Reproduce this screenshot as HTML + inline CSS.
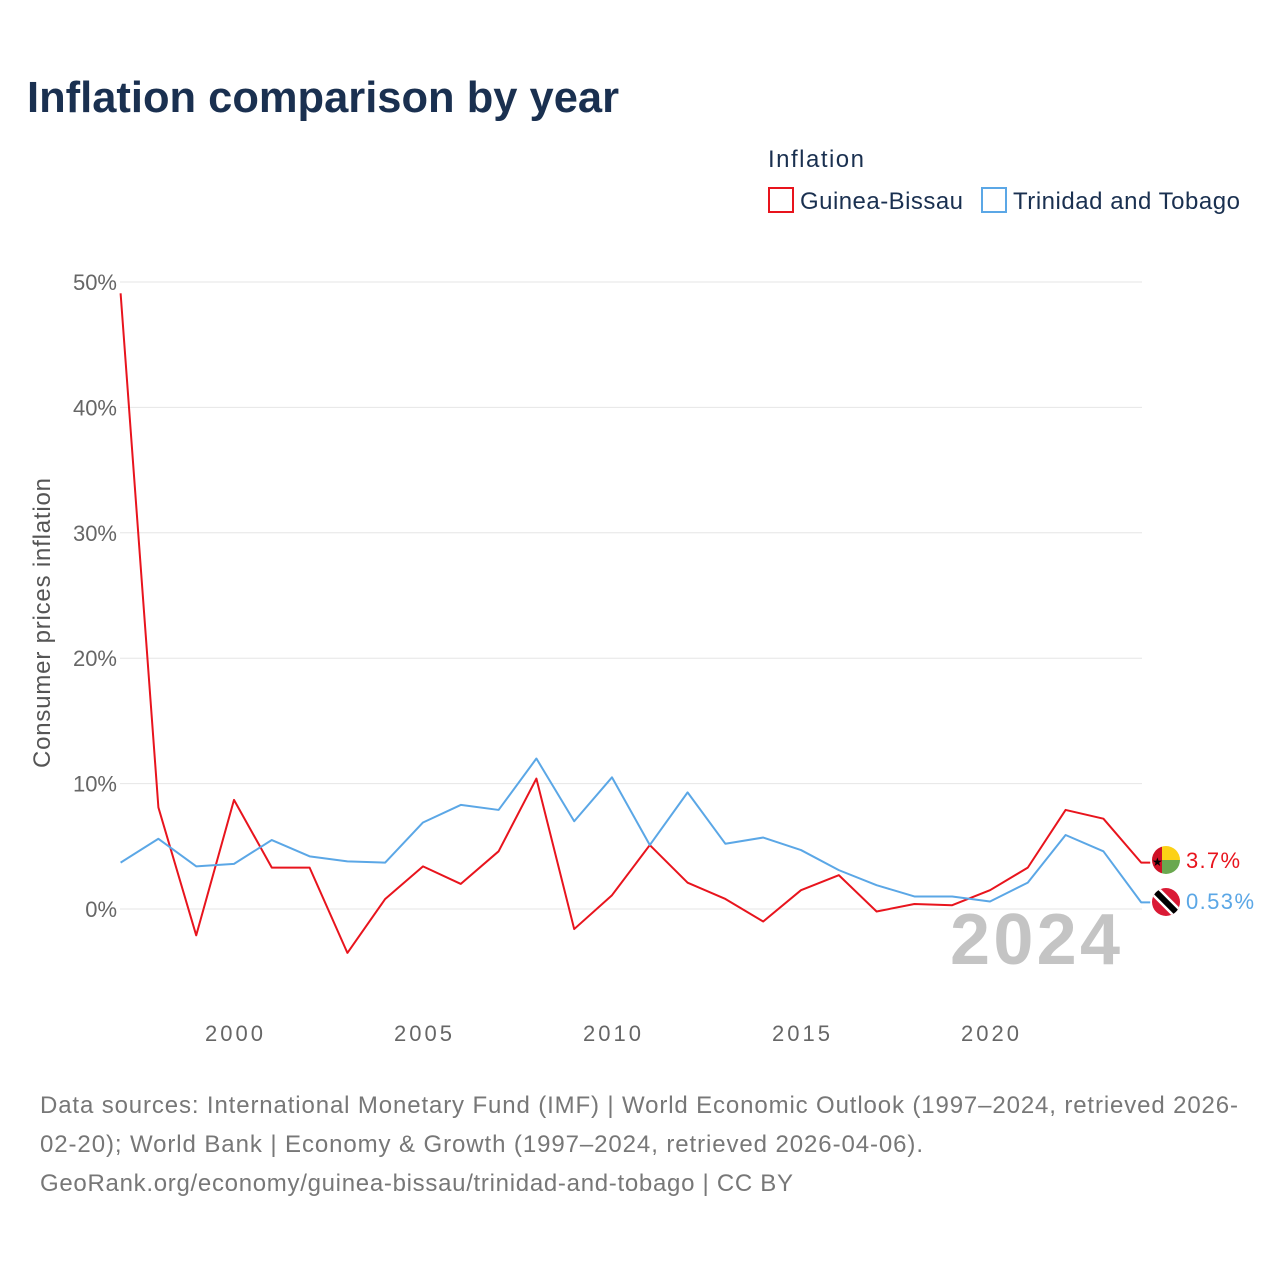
<!DOCTYPE html>
<html><head><meta charset="utf-8"><style>
body{margin:0;background:#fff;font-family:"Liberation Sans",sans-serif;}
#wrap{position:relative;width:1280px;height:1280px;}
</style></head><body>
<div id="wrap">
<svg id="chart" width="1280" height="1280" xmlns="http://www.w3.org/2000/svg">
<text x="27" y="112" font-size="44" font-weight="bold" fill="#1a3050" textLength="592" lengthAdjust="spacingAndGlyphs">Inflation comparison by year</text>
<text x="768" y="167" font-size="24" fill="#1a3050" textLength="96">Inflation</text>
<g><rect x="769" y="188" width="24" height="24" fill="none" stroke="#e8141d" stroke-width="2"/><text x="800" y="209" font-size="24" fill="#1a3050" textLength="163">Guinea-Bissau</text></g>
<g><rect x="982" y="188" width="24" height="24" fill="none" stroke="#5ba7e6" stroke-width="2"/><text x="1013" y="209" font-size="24" fill="#1a3050" textLength="227">Trinidad and Tobago</text></g>
<text transform="translate(50,623) rotate(-90)" text-anchor="middle" font-size="24" fill="#555" textLength="290">Consumer prices inflation</text>
<g id="grid"></g><g id="xt"></g>
<text x="1120" y="964" text-anchor="end" font-size="72" font-weight="bold" fill="#c4c4c4" textLength="170">2024</text>
<g id="series"></g>
<g>
<clipPath id="c1"><circle cx="1166" cy="860" r="14"/></clipPath>
<g clip-path="url(#c1)"><rect x="1152" y="846" width="10" height="28" fill="#ce1126"/><rect x="1162" y="846" width="18" height="14" fill="#fcd116"/><rect x="1162" y="860" width="18" height="14" fill="#6aa84f"/></g>
<text x="1152" y="866" font-size="12" fill="#000">★</text></g>
<g>
<clipPath id="c2"><circle cx="1166" cy="902" r="14"/></clipPath>
<g clip-path="url(#c2)"><rect x="1152" y="888" width="28" height="28" fill="#da1a35"/><line x1="1152" y1="888" x2="1180" y2="916" stroke="#fff" stroke-width="11"/><line x1="1152" y1="888" x2="1180" y2="916" stroke="#000" stroke-width="6"/></g></g>
<text x="1186" y="868" font-size="22" fill="#e8141d" textLength="54">3.7%</text>
<text x="1186" y="909" font-size="22" fill="#5ba7e6" textLength="68">0.53%</text>
<text font-size="24" fill="#777"><tspan x="40" y="1113" textLength="1198">Data sources: International Monetary Fund (IMF) | World Economic Outlook (1997–2024, retrieved 2026-</tspan><tspan x="40" y="1152" textLength="883">02-20); World Bank | Economy &amp; Growth (1997–2024, retrieved 2026-04-06).</tspan><tspan x="40" y="1191" textLength="753">GeoRank.org/economy/guinea-bissau/trinidad-and-tobago | CC BY</tspan></text>
</svg>
</div>
<script>
const years=[1997,1998,1999,2000,2001,2002,2003,2004,2005,2006,2007,2008,2009,2010,2011,2012,2013,2014,2015,2016,2017,2018,2019,2020,2021,2022,2023,2024];
const guineaBissau=[49.1,8.1,-2.1,8.7,3.3,3.3,-3.5,0.8,3.4,2.0,4.6,10.4,-1.6,1.1,5.1,2.1,0.8,-1.0,1.5,2.7,-0.2,0.4,0.3,1.5,3.3,7.9,7.2,3.7];
const trinidad=[3.7,5.6,3.4,3.6,5.5,4.2,3.8,3.7,6.9,8.3,7.9,12.0,7.0,10.5,5.1,9.3,5.2,5.7,4.7,3.1,1.9,1.0,1.0,0.6,2.1,5.9,4.6,0.53];
const yTicks=[0,10,20,30,40,50];
const xTicks=[2000,2005,2010,2015,2020];
const NS="http://www.w3.org/2000/svg";
const X=y=>120.6+(y-1997)*37.8;
const Y=v=>909-v*12.54;
function mk(t,a,p){const e=document.createElementNS(NS,t);for(const k in a)e.setAttribute(k,a[k]);p.appendChild(e);return e;}
const grid=document.getElementById('grid');
yTicks.forEach(v=>{
 const l=mk('line',{x1:120,x2:1142,y1:Y(v),y2:Y(v),stroke:'#e6e6e6','stroke-width':1},grid);
 
 
 const t=mk('text',{x:117,y:Y(v)+8,'text-anchor':'end','font-size':22,fill:'#666'},grid);
 t.textContent=v+'%';
 
 
});
const xt=document.getElementById('xt');
xTicks.forEach(v=>{
 const t=mk('text',{x:X(v),y:1041,'text-anchor':'middle','font-size':22,fill:'#666',textLength:58},xt);
 t.textContent=v;
 
 
});
const s=document.getElementById('series');
[[guineaBissau,'#e8141d','guinea-bissau'],[trinidad,'#5ba7e6','trinidad-and-tobago']].forEach(([d,c,n])=>{
 let p=d.map((v,i)=>(i?'L':'M')+X(years[i])+','+Y(v)).join(' ');
 p+=' L'+(X(years[years.length-1])+9)+','+Y(d[d.length-1]);
 const e=mk('path',{d:p,fill:'none',stroke:c,'stroke-width':2,'stroke-linejoin':'round'},s);
 
 
});
</script>
</body></html>
